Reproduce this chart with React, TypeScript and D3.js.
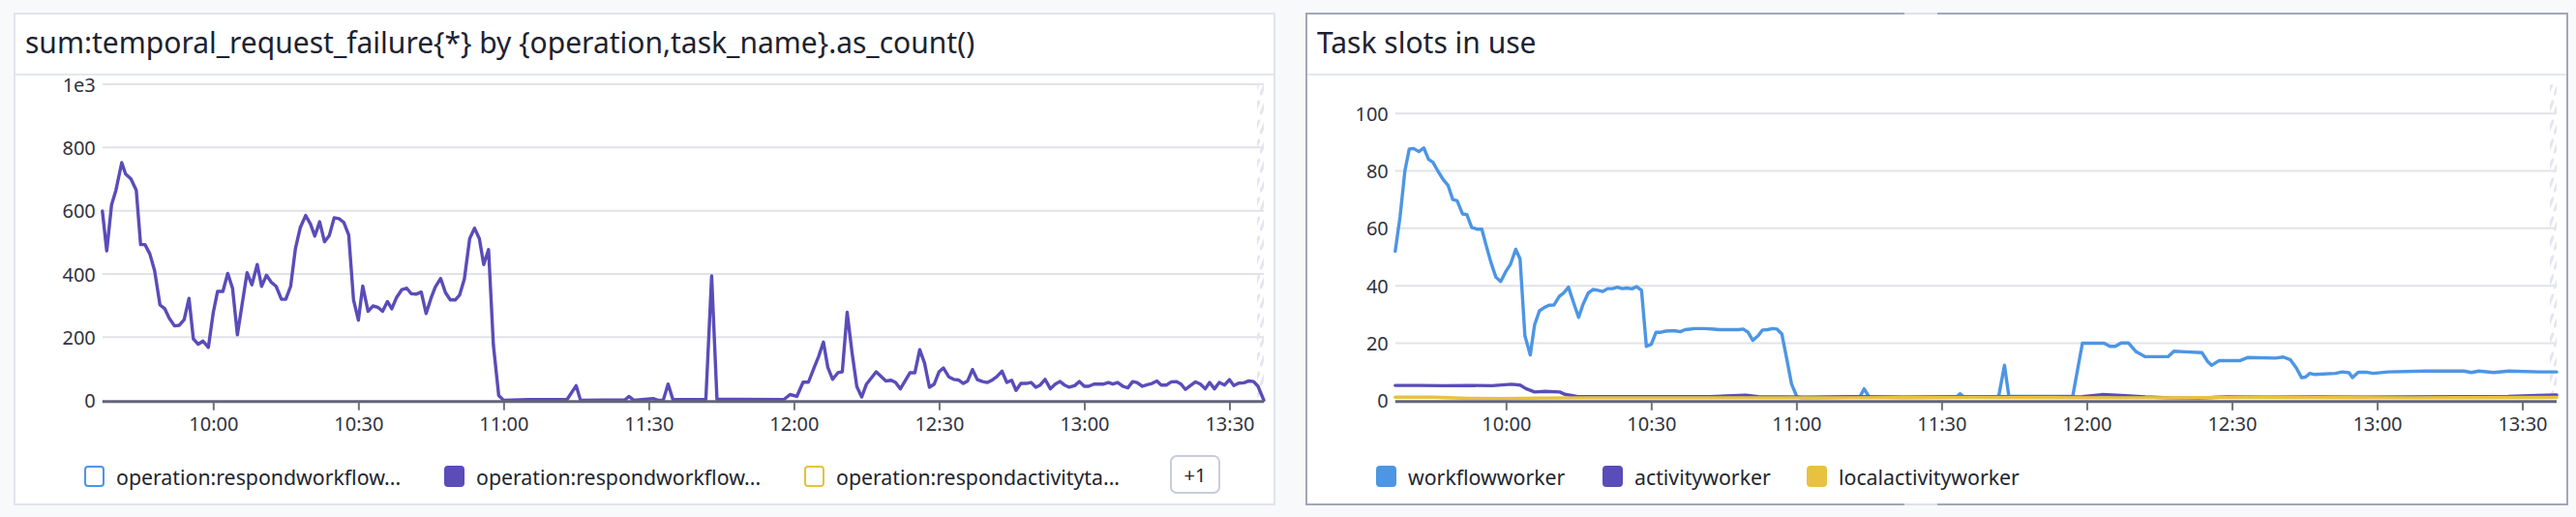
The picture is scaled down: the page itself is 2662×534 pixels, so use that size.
import React from 'react';
import * as d3 from 'd3';

// time axis: 4 hours starting 09:37
const START = new Date(2024, 0, 15, 9, 37);
const SPAN_MIN = 240;
const at = (m: number) => new Date(START.getTime() + m * 60000);

// sum:temporal_request_failure (purple series), minutes after 09:37
const failureMinutes = [
  0, 0.9, 1.9, 2.8, 4, 4.8, 5.9, 7, 7.9, 8.8, 9.8, 10.8, 11.9, 12.9, 13.8, 14.9, 15.9, 16.9, 17.9, 18.8,
  19.8, 20.8, 21.9, 22.9, 23.8, 24.9, 25.9, 26.9, 27.9, 28.9, 29.9, 30.9, 32, 32.9, 33.9, 34.9, 35.9, 37,
  37.9, 38.9, 39.9, 40.9, 42, 43, 43.9, 44.9, 45.9, 46.9, 47.9, 48.9, 49.9, 50.9, 51.9, 52.9, 53.8, 54.9,
  55.9, 56.9, 57.9, 58.9, 59.8, 60.8, 61.9, 62.9, 63.8, 64.8, 65.9, 66.9, 67.9, 68.8, 69.9, 70.9, 71.9,
  72.9, 73.8, 74.8, 75.9, 76.9, 77.9, 78.8, 79.8, 80.8, 81.9, 82.9, 88, 96, 97.9, 98.8, 108, 108.8, 109.8,
  113.8, 114.8, 115.9, 116.9, 117.9, 124.7, 125.9, 127, 140.8, 142.1, 143.5, 144.8, 145.9, 147.1, 148, 149,
  149.9, 150.9, 152, 152.9, 153.9, 154.9, 155.9, 156.9, 157.9, 159.9, 161.9, 163, 163.9, 164.9, 166.9,
  167.9, 168.9, 169.9, 170.9, 171.9, 172.9, 173.8, 174.9, 175.9, 176.9, 177.9, 178.8, 179.8, 180.8, 181.9,
  182.9, 183.8, 184.8, 185.9, 186.9, 187.9, 188.8, 189.8, 190.9, 191.9, 192.9, 193.8, 194.8, 195.9, 196.9,
  197.9, 198.8, 199.8, 200.9, 201.9, 202.9, 203.8, 204.9, 206.9, 207.9, 208.8, 209.8, 210.9, 211.9, 212.9,
  213.8, 214.9, 215.9, 216.9, 217.9, 218.8, 219.9, 220.9, 221.9, 222.9, 223.8, 224.8, 225.9, 226.9, 227.9,
  228.8, 229.8, 230.8, 231.9, 232.9, 233.8, 234.8, 235.9, 236.9, 237.9, 238.8, 240,
];
const failureCounts = [
  599, 473, 619, 665, 752, 716, 701, 665, 493, 493, 464, 410, 302, 290, 261, 236, 238, 256, 323, 195,
  178, 188, 168, 277, 345, 345, 402, 355, 208, 307, 404, 366, 430, 361, 396, 374, 361, 320,
  320, 361, 481, 547, 585, 558, 520, 565, 502, 522, 578, 575, 563, 524, 318, 254, 362, 282,
  299, 295, 282, 313, 290, 326, 351, 355, 338, 336, 343, 275, 323, 359, 386, 341, 318,
  318, 333, 384, 512, 545, 512, 430, 477, 175, 16, 1, 3, 3, 47, 1, 2, 13, 1,
  6, 1, 1, 52, 3, 3, 394, 4, 3, 19, 13, 58, 58, 105, 139, 185,
  105, 67, 88, 91, 279, 153, 44, 11, 52, 91, 62, 64, 57, 37, 88,
  88, 161, 118, 42, 52, 91, 103, 75, 67, 65, 54, 62, 98, 66, 60,
  57, 64, 75, 93, 57, 64, 32, 54, 54, 57, 42, 49, 67, 37, 52,
  60, 49, 42, 47, 60, 45, 45, 52, 52, 57, 52, 57, 45, 40, 60,
  57, 45, 50, 54, 62, 49, 49, 59, 60, 52, 35, 47, 59, 52, 37,
  57, 37, 57, 49, 66, 47, 55, 56, 62, 60, 45, 1,
];

// Task slots in use
const workflowMinutes = [
  0, 1, 2, 2.9, 3.8, 4.9, 5.9, 6.9, 7.8, 8.8, 9.9, 10.9, 11.9, 12.8, 13.9, 14.8, 15.8, 16.9, 17.9, 18.8,
  19.8, 20.8, 21.8, 22.8, 23.8, 24.9, 25.8, 26.8, 27.9, 28.8, 29.8, 30.9, 31.8, 32.8, 33.9, 34.8, 35.8,
  36.9, 37.9, 38.8, 39.9, 40.9, 41.9, 42.9, 43.9, 44.9, 45.9, 46.9, 47.9, 48.9, 49.9, 50.9, 51.9, 52.9,
  53.9, 54.9, 55.9, 56.9, 57.9, 58.9, 59.9, 60.9, 61.9, 63.9, 65.9, 66.9, 71, 71.9, 72.9, 73.9, 75, 75.9,
  76.9, 78, 78.9, 79.9, 81, 81.9, 83, 84, 90, 96, 96.9, 97.9, 105, 116, 116.7, 117.5, 124.7, 125.9, 126.8,
  140, 142, 143, 146.5, 147.7, 148.8, 150, 151.5, 153.1, 155, 157, 159.7, 160.9, 163.2, 166.7, 167.9,
  168.7, 170.2, 174.5, 176.1, 181.9, 183.5, 185, 186.2, 187.3, 188.1, 189, 190, 194.3, 195.7, 197.1,
  197.8, 199, 200.6, 202.1, 205.2, 213, 220.8, 222.4, 223.9, 227, 230.1, 236.4, 240,
];
const workflowSlots = [
  52, 64, 80, 87.6, 87.8, 86.7, 88, 84, 83, 80, 77, 75, 70, 69.6, 65, 64.8, 60.3, 59.7, 59.7, 54,
  48, 43, 41.5, 44.8, 47.4, 52.7, 49.3, 22.6, 15.9, 26.4, 31.3, 32.5, 33.2, 33.3, 36.3, 37.5, 39.5,
  33.9, 29, 33.5, 37.5, 38.7, 38.4, 38, 39, 39, 39.5, 39, 39.2, 38.9, 39.7, 38.4, 18.9, 19.6,
  23.8, 23.8, 24.2, 24.3, 24.3, 24, 24.7, 24.9, 25.1, 25.1, 24.9, 24.7, 24.7, 24.9, 23.8, 21, 22.6, 24.6,
  24.7, 25.1, 24.9, 23.2, 13.7, 5.8, 1.3, 1, 1.1, 1.3, 4.1, 1.3, 1.1, 1.2, 2.4, 1.3, 1.5, 12.3, 1.5,
  1.5, 20, 20, 20, 18.9, 18.9, 20.1, 20.1, 17, 15.3, 15.3, 15.3, 17.2, 17, 16.7, 13.6,
  12.3, 13.9, 13.9, 15, 14.8, 15.2, 14.2, 11.4, 8, 8.2, 9.5, 9.1, 9.5, 10, 9.7,
  8, 9.9, 9.9, 9.5, 10, 10.3, 10.3, 9.8, 10.3, 9.8, 10.3, 10, 10,
];
const activityMinutes = [
  0, 5, 10, 15, 20, 24, 25.8, 27, 28.8, 31, 34, 35, 37.5, 45, 55, 65, 72.4, 75, 85, 95, 105, 115, 125,
  135, 142, 146, 150, 155, 160, 166, 172, 180, 190, 200, 210, 220, 230, 236, 240,
];
const activitySlots = [
  5.3, 5.3, 5.2, 5.3, 5.2, 5.7, 5.4, 4.2, 3, 3.2, 3, 2.2, 1.5, 1.4, 1.4, 1.4, 1.9, 1.4, 1.2, 1.4, 1.2, 1.4,
  1.4, 1.2, 1.4, 2.1, 1.8, 1.3, 1, 0.9, 1.3, 1.2, 1.3, 1.2, 1.3, 1.4, 1.5, 1.8, 2,
];
const localMinutes = [0, 8, 15, 22, 30, 40, 60, 90, 120, 150, 180, 210, 240];
const localSlots = [1.2, 1.2, 0.8, 0.7, 0.9, 1, 1, 1, 1.1, 1, 1.1, 1, 1.1];

const failureTicks = [0, 200, 400, 600, 800, 1000];
const failureTickLabels = ['0', '200', '400', '600', '800', '1e3'];
const slotTicks = [0, 20, 40, 60, 80, 100];
const slotTickLabels = ['0', '20', '40', '60', '80', '100'];

const failureLegend = [
  'operation:respondworkflow...',
  'operation:respondworkflow...',
  'operation:respondactivityta...',
];
const slotLegend = ['workflowworker', 'activityworker', 'localactivityworker'];

const BLUE = '#4d95e5';
const PURPLE = '#5a4cb9';
const YELLOW = '#e8c13f';
const FONT = '"Noto Sans", "Open Sans", sans-serif';

type Series = { minutes: number[]; values: number[]; color: string };

const TimeChart = ({ left, right, top, bottom, yMax, ticks, tickLabels, series, id }: {
  left: number; right: number; top: number; bottom: number; yMax: number;
  ticks: number[]; tickLabels: string[]; series: Series[]; id: string;
}) => {
  const x = d3.scaleTime().domain([START, at(SPAN_MIN)]).range([left, right]);
  const y = d3.scaleLinear().domain([0, yMax]).range([bottom, top]);
  const xTicks = x.ticks(d3.timeMinute.every(30)!);
  const fmt = d3.timeFormat('%H:%M');

  return (
    <g>
      <defs>
        <pattern id={`hatch-${id}`} patternUnits="userSpaceOnUse" width={7} height={20}>
          <path d="M1,17 L6,5" stroke="#e4e5ee" strokeWidth={3} strokeLinecap="round" />
        </pattern>
      </defs>
      {ticks.map((t, i) => (
        <g key={t}>
          {t > 0 && <line x1={left} x2={right} y1={y(t)} y2={y(t)} stroke="#e2e3e7" strokeWidth={2} />}
          <text x={left - 7} y={y(t)} textAnchor="end" dominantBaseline="central"
            fontSize={20} fill="#2f3340" fontFamily={FONT}>{tickLabels[i]}</text>
        </g>
      ))}
      <rect x={right - 7} y={top} width={7} height={bottom - top - 3} fill={`url(#hatch-${id})`} />
      {series.map((s, i) => {
        const pts = s.minutes.map((m, j) => [m, s.values[j]] as [number, number]);
        const path = d3.line<[number, number]>()
          .x((d) => x(at(d[0])))
          .y((d) => y(d[1]))(pts);
        return <path key={i} d={path || ''} fill="none" stroke={s.color} strokeWidth={3.4}
          strokeLinejoin="round" strokeLinecap="round" />;
      })}
      <line x1={left} x2={right} y1={bottom + 1} y2={bottom + 1} stroke="#626578" strokeWidth={3} />
      {xTicks.map((t) => (
        <g key={+t}>
          <line x1={x(t)} x2={x(t)} y1={bottom + 2} y2={bottom + 10} stroke="#70737f" strokeWidth={2} />
          <text x={x(t)} y={bottom + 24} textAnchor="middle" dominantBaseline="central"
            fontSize={20} fill="#2f3340" fontFamily={FONT}>{fmt(t)}</text>
        </g>
      ))}
    </g>
  );
};

const Card = ({ x, y, w, h, title, border, strong }: {
  x: number; y: number; w: number; h: number; title: string; border: string; strong?: boolean;
}) => (
  <g>
    <rect x={x} y={y} width={w} height={h} fill="#fff" stroke={border} strokeWidth={2} />
    <line x1={x + 1} x2={x + w - 1} y1={77} y2={77} stroke="#e3e6ec" strokeWidth={2} />
    <text x={x + 11} y={55} fontSize={30} fill="#1c2230" fontFamily={FONT}>{title}</text>
    {strong && (
      <>
        <line x1={1968} x2={2002} y1={y} y2={y} stroke="#dfe2e9" strokeWidth={2} />
        <line x1={1968} x2={2002} y1={y + h} y2={y + h} stroke="#dfe2e9" strokeWidth={2} />
      </>
    )}
  </g>
);

const LegendItem = ({ x, label, color, filled }: { x: number; label: string; color: string; filled: boolean }) => (
  <g>
    <rect x={x + 1} y={482} width={19} height={20} rx={3}
      fill={filled ? color : '#fff'} stroke={color} strokeWidth={2} />
    <text x={x + 33} y={492} dominantBaseline="central" fontSize={21.3} fill="#22262f" fontFamily={FONT}>{label}</text>
  </g>
);

export default function App() {
  const failureColors = [BLUE, PURPLE, YELLOW];
  const slotColors = [BLUE, PURPLE, YELLOW];
  const slotLegendX = [1422, 1656, 1867];

  return (
    <svg width={2662} height={534} style={{ position: 'fixed', left: 0, top: 0 }}>
      <rect width={2662} height={534} fill="#f8f9fb" />

      <Card x={15} y={14} w={1302} h={507} border="#e1e4eb"
        title="sum:temporal_request_failure{*} by {operation,task_name}.as_count()" />
      <TimeChart id="fail" left={105.8} right={1306} top={87} bottom={413.7} yMax={1000}
        ticks={failureTicks} tickLabels={failureTickLabels}
        series={[{ minutes: failureMinutes, values: failureCounts, color: PURPLE }]} />
      {failureLegend.map((l, i) => (
        <LegendItem key={i} x={87 + i * 372} label={l} color={failureColors[i]} filled={i === 1} />
      ))}
      <rect x={1210} y={471} width={50} height={38} rx={6} fill="#fff" stroke="#c9ccd8" strokeWidth={2} />
      <text x={1235} y={490} textAnchor="middle" dominantBaseline="central" fontSize={20}
        fill="#22262f" fontFamily={FONT}>+1</text>

      <Card x={1350} y={14} w={1303} h={507} border="#a2a7b7" strong title="Task slots in use" />
      <TimeChart id="slots" left={1441.8} right={2642} top={87.5} bottom={413.8} yMax={110}
        ticks={slotTicks} tickLabels={slotTickLabels}
        series={[
          { minutes: workflowMinutes, values: workflowSlots, color: BLUE },
          { minutes: activityMinutes, values: activitySlots, color: PURPLE },
          { minutes: localMinutes, values: localSlots, color: YELLOW },
        ]} />
      {slotLegend.map((l, i) => (
        <LegendItem key={l} x={slotLegendX[i]} label={l} color={slotColors[i]} filled />
      ))}
    </svg>
  );
}
